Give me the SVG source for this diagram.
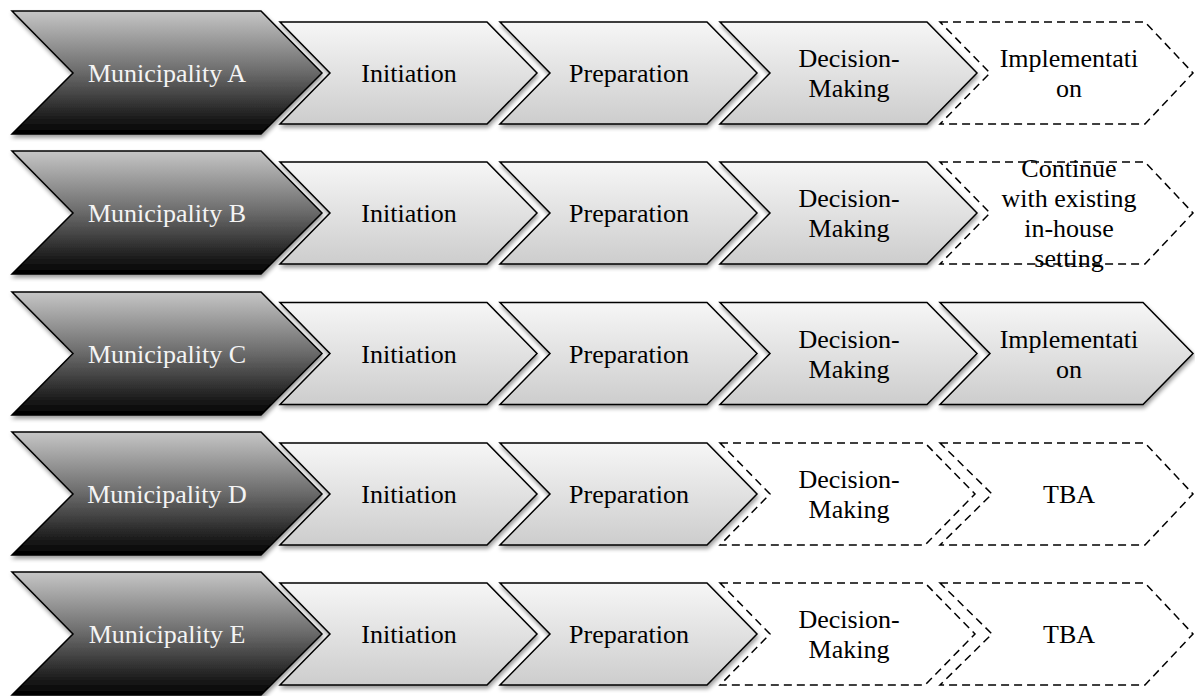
<svg xmlns="http://www.w3.org/2000/svg" width="1195" height="696" viewBox="0 0 1195 696">
  <defs>
    <linearGradient id="gradDark" x1="0" y1="0" x2="0" y2="1">
      <stop offset="0" stop-color="#c6c6c6"/>
      <stop offset="0.5" stop-color="#6a6a6a"/>
      <stop offset="1" stop-color="#000000"/>
    </linearGradient>
    <linearGradient id="gradLight" x1="0" y1="0" x2="0" y2="1">
      <stop offset="0" stop-color="#f6f6f6"/>
      <stop offset="1" stop-color="#cdcdcd"/>
    </linearGradient>
    <filter id="shadow" x="-5%" y="-10%" width="115%" height="130%">
      <feGaussianBlur in="SourceAlpha" stdDeviation="2"/>
      <feOffset dx="1" dy="3" result="off"/>
      <feComponentTransfer>
        <feFuncA type="linear" slope="0.4"/>
      </feComponentTransfer>
      <feMerge>
        <feMergeNode/>
        <feMergeNode in="SourceGraphic"/>
      </feMerge>
    </filter>
  </defs>
  <style>
    .dark { fill: url(#gradDark); stroke: #000; stroke-width: 1.5; stroke-linejoin: miter; filter: url(#shadow); }
    .step { fill: url(#gradLight); stroke: #000; stroke-width: 1.5; stroke-linejoin: miter; filter: url(#shadow); }
    .open { fill: #fff; stroke: #000; stroke-width: 1.5; stroke-dasharray: 8 5; }
    text { font-family: 'Liberation Serif', 'DejaVu Serif', serif; font-size: 26px; text-anchor: middle; fill: #000; }
    text.light { fill: #f4f4f4; }
  </style>

  <g font-family="Liberation Serif, DejaVu Serif, serif">
  <!-- Row 1 -->
  <g id="muniA">
    <polygon class="dark" points="12,11 261,11 322,73 261,134 12,134 73,73"/>
    <text class="light" x="167" y="82">Municipality A</text>
  </g>
  <g id="a-initiation">
    <polygon class="step" points="280,22 487,22 537,73 487,124 280,124 330,73"/>
    <text x="409" y="82">Initiation</text>
  </g>
  <g id="a-preparation">
    <polygon class="step" points="500,22 707,22 757,73 707,124 500,124 550,73"/>
    <text x="629" y="82">Preparation</text>
  </g>
  <g id="a-decision">
    <polygon class="step" points="720,22 927,22 977,73 927,124 720,124 770,73"/>
    <text x="849" y="67">Decision-</text>
    <text x="849" y="97">Making</text>
  </g>
  <g id="a-implementation">
    <polygon class="open" points="940,22 1145,22 1193,73 1145,124 940,124 990,73"/>
    <text x="1069" y="67">Implementati</text>
    <text x="1069" y="97">on</text>
  </g>

  <!-- Row 2 -->
  <g id="muniB">
    <polygon class="dark" points="12,151 261,151 322,213 261,274 12,274 73,213"/>
    <text class="light" x="167" y="222">Municipality B</text>
  </g>
  <g id="b-initiation">
    <polygon class="step" points="280,162 487,162 537,213 487,264 280,264 330,213"/>
    <text x="409" y="222">Initiation</text>
  </g>
  <g id="b-preparation">
    <polygon class="step" points="500,162 707,162 757,213 707,264 500,264 550,213"/>
    <text x="629" y="222">Preparation</text>
  </g>
  <g id="b-decision">
    <polygon class="step" points="720,162 927,162 977,213 927,264 720,264 770,213"/>
    <text x="849" y="207">Decision-</text>
    <text x="849" y="237">Making</text>
  </g>
  <g id="b-continue">
    <polygon class="open" points="940,162 1145,162 1193,213 1145,264 940,264 990,213"/>
    <text x="1069" y="177">Continue</text>
    <text x="1069" y="207">with existing</text>
    <text x="1069" y="237">in-house</text>
    <text x="1069" y="267">setting</text>
  </g>

  <!-- Row 3 -->
  <g id="muniC">
    <polygon class="dark" points="12,292 261,292 322,353.5 261,415 12,415 73,353.5"/>
    <text class="light" x="167" y="362.5">Municipality C</text>
  </g>
  <g id="c-initiation">
    <polygon class="step" points="280,302.5 487,302.5 537,353.5 487,404.5 280,404.5 330,353.5"/>
    <text x="409" y="362.5">Initiation</text>
  </g>
  <g id="c-preparation">
    <polygon class="step" points="500,302.5 707,302.5 757,353.5 707,404.5 500,404.5 550,353.5"/>
    <text x="629" y="362.5">Preparation</text>
  </g>
  <g id="c-decision">
    <polygon class="step" points="720,302.5 927,302.5 977,353.5 927,404.5 720,404.5 770,353.5"/>
    <text x="849" y="347.5">Decision-</text>
    <text x="849" y="377.5">Making</text>
  </g>
  <g id="c-implementation">
    <polygon class="step" points="940,302.5 1143,302.5 1193,353.5 1143,404.5 940,404.5 990,353.5"/>
    <text x="1069" y="347.5">Implementati</text>
    <text x="1069" y="377.5">on</text>
  </g>

  <!-- Row 4 -->
  <g id="muniD">
    <polygon class="dark" points="12,432 261,432 322,494 261,555 12,555 73,494"/>
    <text class="light" x="167" y="503">Municipality D</text>
  </g>
  <g id="d-initiation">
    <polygon class="step" points="280,443 487,443 537,494 487,545 280,545 330,494"/>
    <text x="409" y="503">Initiation</text>
  </g>
  <g id="d-preparation">
    <polygon class="step" points="500,443 707,443 757,494 707,545 500,545 550,494"/>
    <text x="629" y="503">Preparation</text>
  </g>
  <g id="d-decision">
    <polygon class="open" points="720,443 925,443 975,494 925,545 720,545 770,494"/>
    <text x="849" y="488">Decision-</text>
    <text x="849" y="518">Making</text>
  </g>
  <g id="d-tba">
    <polygon class="open" points="940,443 1145,443 1193,494 1145,545 940,545 992,494"/>
    <text x="1069" y="503">TBA</text>
  </g>

  <!-- Row 5 -->
  <g id="muniE">
    <polygon class="dark" points="12,572 261,572 322,634 261,695 12,695 73,634"/>
    <text class="light" x="167" y="643">Municipality E</text>
  </g>
  <g id="e-initiation">
    <polygon class="step" points="280,583 487,583 537,634 487,685 280,685 330,634"/>
    <text x="409" y="643">Initiation</text>
  </g>
  <g id="e-preparation">
    <polygon class="step" points="500,583 707,583 757,634 707,685 500,685 550,634"/>
    <text x="629" y="643">Preparation</text>
  </g>
  <g id="e-decision">
    <polygon class="open" points="720,583 925,583 975,634 925,685 720,685 770,634"/>
    <text x="849" y="628">Decision-</text>
    <text x="849" y="658">Making</text>
  </g>
  <g id="e-tba">
    <polygon class="open" points="940,583 1145,583 1193,634 1145,685 940,685 992,634"/>
    <text x="1069" y="643">TBA</text>
  </g>
  </g>

  <!-- the chevron chain has no separate connector lines -->
  <g id="connectors"/>
</svg>
